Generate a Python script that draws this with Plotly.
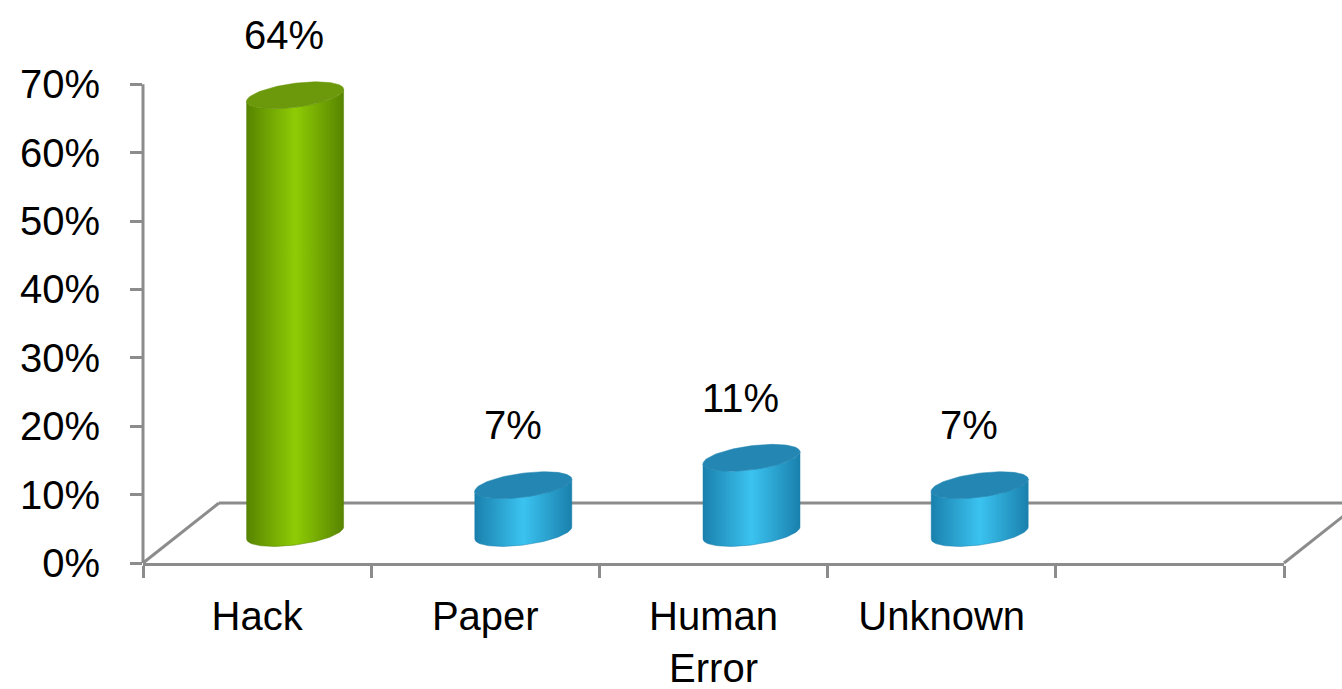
import numpy as np
import plotly.graph_objects as go

# ---------------- data ----------------
categories = ["Hack", "Paper", "Human Error", "Unknown", ""]
cat_labels = ["Hack", "Paper", "Human<br>Error", "Unknown", ""]
values = [0.64, 0.07, 0.11, 0.07]
value_labels = ["64%", "7%", "11%", "7%"]
y_tickvals = [0.0, 0.1, 0.2, 0.3, 0.4, 0.5, 0.6, 0.7]
y_ticktext = ["0%", "10%", "20%", "30%", "40%", "50%", "60%", "70%"]

# ---------------- styles ----------------
W, H = 1342, 689
ML, MR, MT, MB = 143, 58, 50, 126
PW, PH = W - ML - MR, H - MT - MB
Y_MAX = 0.75
X_RANGE = [-0.5, len(categories) - 0.5]
PX_X = PW / (X_RANGE[1] - X_RANGE[0])   # px per category unit
PX_Y = PH / Y_MAX                        # px per value unit

DEPTH_X_PX, DEPTH_Y_PX = 76, 60          # 3D floor depth
RAD_X_PX, RAD_Y_PX, TILT_PX = 48.5, 12, 6

GRAY = "#8c8c8c"
FONT = "Liberation Sans, Arial, sans-serif"
GREEN = dict(edge="#578400", light="#8fcc05", cap="#6c990c")
BLUE = dict(edge="#1a80ad", light="#3bc3f0", cap="#2487b3")
palette = [GREEN, BLUE, BLUE, BLUE]

dx = DEPTH_X_PX / 2 / PX_X
dy = DEPTH_Y_PX / 2 / PX_Y
a = RAD_X_PX / PX_X
b = RAD_Y_PX / PX_Y
k = TILT_PX / PX_Y

fig = go.Figure()

for i, (v, sty) in enumerate(zip(values, palette)):
    cx = i + dx
    base = dy
    top = base + v
    t = np.linspace(np.pi, 2 * np.pi, 60)
    bx = cx + a * np.cos(t)
    by = base + b * np.sin(t) + k * np.cos(t)
    tr = t[::-1]
    tx = cx + a * np.cos(tr)
    ty = top + b * np.sin(tr) + k * np.cos(tr)
    xs = np.concatenate([bx, tx, bx[:1]])
    ys = np.concatenate([by, ty, by[:1]])
    fig.add_trace(go.Scatter(
        x=xs, y=ys, mode="lines", fill="toself",
        line=dict(width=0.5, color=sty["edge"]),
        fillgradient=dict(type="horizontal",
                          colorscale=[[0, sty["edge"]], [0.5, sty["light"]], [1, sty["edge"]]]),
        hoverinfo="skip", showlegend=False))
    tf = np.linspace(0, 2 * np.pi, 120)
    fig.add_trace(go.Scatter(
        x=cx + a * np.cos(tf), y=top + b * np.sin(tf) + k * np.cos(tf),
        mode="lines", fill="toself",
        line=dict(width=0.5, color=sty["cap"]), fillcolor=sty["cap"],
        hoverinfo="skip", showlegend=False))

# value labels
for i, (v, lab) in enumerate(zip(values, value_labels)):
    fig.add_annotation(x=i + 0.12, y=v + dy, text=lab, showarrow=False,
                       xref="x", yref="y", yshift=60,
                       font=dict(family=FONT, size=40, color="#000000"))

# 3D floor (decoration) in paper coordinates
dxp, dyp = DEPTH_X_PX / PW, DEPTH_Y_PX / PH
floor = [(0, 0, dxp, dyp), (dxp, dyp, 1 + dxp, dyp), (1, 0, 1 + dxp, dyp)]
for x0, y0, x1, y1 in floor:
    fig.add_shape(type="line", xref="paper", yref="paper", x0=x0, y0=y0, x1=x1, y1=y1,
                  line=dict(color=GRAY, width=3), layer="below")
# y axis line up to the top tick
fig.add_shape(type="line", xref="paper", yref="y", x0=0, x1=0,
              y0=y_tickvals[0], y1=y_tickvals[-1],
              line=dict(color=GRAY, width=3), layer="below")

fig.update_layout(
    width=W, height=H, autosize=False,
    margin=dict(l=ML, r=MR, t=MT, b=MB),
    paper_bgcolor="white", plot_bgcolor="white",
    font=dict(family=FONT, size=40, color="#000000"),
    xaxis=dict(range=X_RANGE, tickvals=list(range(len(categories))), ticktext=cat_labels,
               ticks="", showline=True, linecolor=GRAY, linewidth=3, automargin=False,
               showgrid=False, zeroline=False, ticklabelstandoff=16,
               minor=dict(tickvals=[j - 0.5 for j in range(len(categories) + 1)],
                          ticks="outside", ticklen=12, tickwidth=3, tickcolor=GRAY,
                          showgrid=False)),
    yaxis=dict(range=[0, Y_MAX], tickvals=y_tickvals, ticktext=y_ticktext, automargin=False,
               ticks="outside", ticklen=12, tickwidth=3, tickcolor=GRAY,
               showline=False, showgrid=False, zeroline=False, ticklabelstandoff=22),
)

fig.write_html("out.html")
